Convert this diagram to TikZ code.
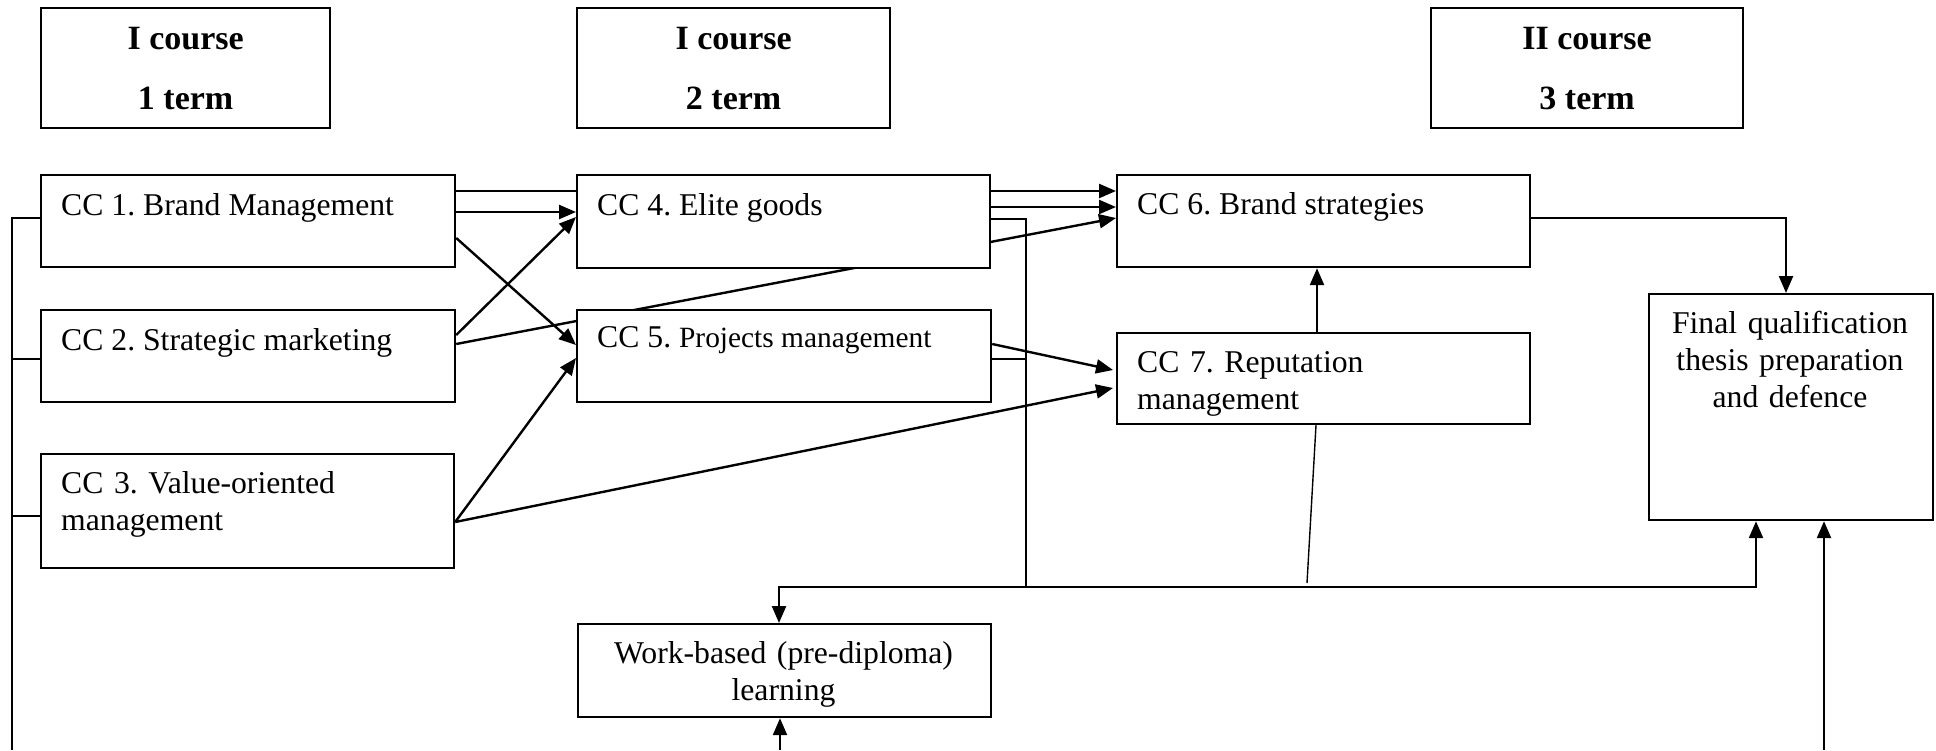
\documentclass[tikz,border=0pt]{standalone}
\usepackage{fontspec}
\setmainfont{Liberation Serif}
\usetikzlibrary{arrows.meta}
\pgfdeclarelayer{bg}
\pgfsetlayers{bg,main}
\frenchspacing
\begin{document}
\begin{tikzpicture}[x=1pt,y=-1pt,
  box/.style={draw, line width=2.2pt, fill=white, inner sep=0pt, anchor=north west},
  hdr/.style={box, align=center, font=\fontsize{34}{60}\selectfont\bfseries},
  txt/.style={inner sep=0pt, anchor=base west, font=\fontsize{31.7}{37}\selectfont},
  ctxt/.style={inner sep=0pt, anchor=base, align=center, font=\fontsize{31.7}{37}\selectfont},
  conn/.style={line width=2.4pt},
  arr/.style={conn, -{Triangle[length=17pt,width=14pt]}},
  thinln/.style={line width=1.4pt},
]
\useasboundingbox (0,0) rectangle (1936,750);
% headers
\node[hdr, minimum width=289pt, minimum height=120pt] (h1) at (40,7) {I course\\1 term};
\node[hdr, minimum width=313pt, minimum height=120pt] (h2) at (576,7) {I course\\2 term};
\node[hdr, minimum width=312pt, minimum height=120pt] (h3) at (1430,7) {II course\\3 term};
% boxes
\node[box, minimum width=414pt, minimum height=92pt] (cc1) at (40,174) {};
\node[box, minimum width=414pt, minimum height=92pt] (cc2) at (40,309) {};
\node[box, minimum width=413pt, minimum height=114pt] (cc3) at (40,453) {};
\node[box, minimum width=413pt, minimum height=93pt] (cc4) at (576,174) {};
\node[box, minimum width=414pt, minimum height=92pt] (cc5) at (576,309) {};
\node[box, minimum width=413pt, minimum height=92pt] (cc6) at (1116,174) {};
\node[box, minimum width=413pt, minimum height=91pt] (cc7) at (1116,332) {};
\node[box, minimum width=284pt, minimum height=226pt] (fin) at (1648,293) {};
\node[box, minimum width=413pt, minimum height=93pt] (work) at (577,623) {};
% texts
\node[txt] (t1) at (61,215) {CC 1. Brand Management};
\node[txt] (t2) at (61,350) {CC 2. Strategic marketing};
\node[txt, text width=380pt, align=left] (t3) at (61,493) {CC 3. Value-oriented\\management};
\node[txt] (t4) at (597,215) {CC 4. Elite goods};
\node[txt] (t5) at (597,347) {CC 5. {\fontsize{29.4}{37}\selectfont Projects management}};
\node[txt] (t6) at (1137,214) {CC 6. Brand strategies};
\node[txt, text width=380pt, align=left] (t7) at (1137,372) {CC 7. Reputation\\management};
\node[ctxt, text width=284pt] (t8) at (1790,333) {Final qualification\\thesis preparation\\and defence};
\node[ctxt, text width=413pt] (t9) at (783.5,663) {Work-based (pre-diploma)\\learning};
% free ends
\coordinate (jn) at (1026,587);
\coordinate (thinend) at (1307,583);
\coordinate (lb) at (12,750);
\coordinate (wb) at (780,750);
\coordinate (fb) at (1824,750);
\begin{pgfonlayer}{bg}
\draw[arr] (cc1.east |- 0,191) -- (cc6.west |- 0,191);
\draw[arr] (cc1.east |- 0,212) -- (cc4.west |- 0,212);
\draw[arr] (cc1.east |- 0,238) -- (cc5.west |- 0,345);
\draw[arr] (cc2.east |- 0,335) -- (cc4.west |- 0,217);
\draw[arr] (cc2.east |- 0,344) -- (cc6.west |- 0,218);
\draw[arr] (cc3.east |- 0,522) -- (cc5.west |- 0,358);
\draw[arr] (cc3.east |- 0,522) -- ([xshift=-3pt]cc7.west |- 0,388);
\draw[arr] (cc4.east |- 0,207) -- (cc6.west |- 0,207);
\draw[arr] (cc5.east |- 0,344) -- ([xshift=-3pt]cc7.west |- 0,370);
\draw[arr] (1317,0 |- cc7.north) -- (1317,0 |- cc6.south);
\draw[arr] (cc6.east |- 0,218) -| (fin.north -| 1786,0);
\draw[conn] (cc4.east |- 0,219) -| (jn);
\draw[conn] (cc5.east |- 0,359) -- (1026,359);
\draw[arr] (jn) -| (fin.south -| 1756,0);
\draw[arr] (jn) -| (work.north -| 779,0);
\draw[thinln] (1316,0 |- cc7.south) -- (thinend);
\draw[conn] (cc1.west |- 0,218) -| (lb);
\draw[conn] (cc2.west |- 0,359) -- (12,359);
\draw[conn] (cc3.west |- 0,516) -- (12,516);
\draw[arr] (wb) -- (work.south -| wb);
\draw[arr] (fb) -- (fin.south -| fb);
\end{pgfonlayer}
\end{tikzpicture}
\end{document}
